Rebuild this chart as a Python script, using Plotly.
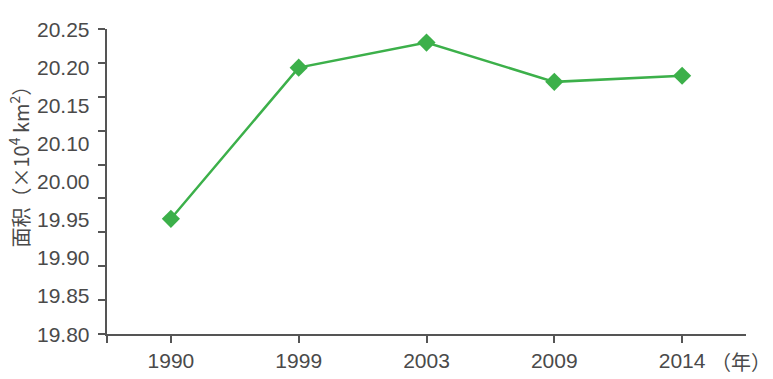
import plotly.graph_objects as go

years = ["1990", "1999", "2003", "2009", "2014"]
area = [19.970, 20.193, 20.230, 20.172, 20.181]
ytick_vals = [19.80, 19.85, 19.90, 19.95, 20.00, 20.05, 20.10, 20.15, 20.20, 20.25]
ytick_labels = ["19.80", "19.85", "19.90", "19.95", "20.00", "20.10", "20.15", "20.20", "20.25"]

axis_color = "#555555"
text_color = "#4a4a4a"
green = "#3cb04a"
font_lat = "Liberation Sans, Arial, sans-serif"

xpos = list(range(len(years)))

fig = go.Figure()
fig.add_trace(go.Scatter(
    x=xpos, y=area, mode="lines+markers",
    line=dict(color=green, width=2.5),
    marker=dict(symbol="diamond", size=14, color=green),
    showlegend=False, hoverinfo="skip",
))

annotations = []
n = len(ytick_labels)
for i, lab in enumerate(ytick_labels):
    annotations.append(dict(
        text=lab, xref="paper", yref="paper", x=0, y=i / (n - 1),
        xanchor="right", yanchor="middle", xshift=-15, showarrow=False,
        font=dict(family=font_lat, size=21, color=text_color),
    ))
annotations.append(dict(
    text="面积（×10<sup>4</sup> km<sup>2</sup>）", textangle=-90,
    xref="paper", yref="paper", x=-0.137, y=0.567,
    xanchor="center", yanchor="middle", showarrow=False,
    font=dict(family="Noto Sans CJK SC, " + font_lat, size=20, color=text_color),
))
annotations.append(dict(
    text="（年）", xref="paper", yref="paper", x=1.043, y=0,
    xanchor="right", yanchor="top", yshift=-11, showarrow=False,
    font=dict(family="Noto Sans CJK SC", size=20, color=text_color),
))

fig.update_layout(
    width=773, height=379,
    margin=dict(l=107, r=27, t=29, b=45, autoexpand=False),
    paper_bgcolor="white", plot_bgcolor="white",
    annotations=annotations,
    xaxis=dict(
        range=[-0.5, 4.5], tickvals=[-0.5] + xpos, ticktext=[""] + years,
        showline=True, linecolor=axis_color, linewidth=1.5,
        ticks="outside", ticklen=7, tickcolor=axis_color, tickwidth=1.5,
        showgrid=False, zeroline=False, automargin=False,
        tickfont=dict(family=font_lat, size=21, color=text_color),
    ),
    yaxis=dict(
        range=[19.80, 20.25], tickvals=ytick_vals, showticklabels=False,
        showline=True, linecolor=axis_color, linewidth=1.5,
        ticks="outside", ticklen=7, tickcolor=axis_color, tickwidth=1.5,
        showgrid=False, zeroline=False, automargin=False,
    ),
)

fig.write_html("out.html")
